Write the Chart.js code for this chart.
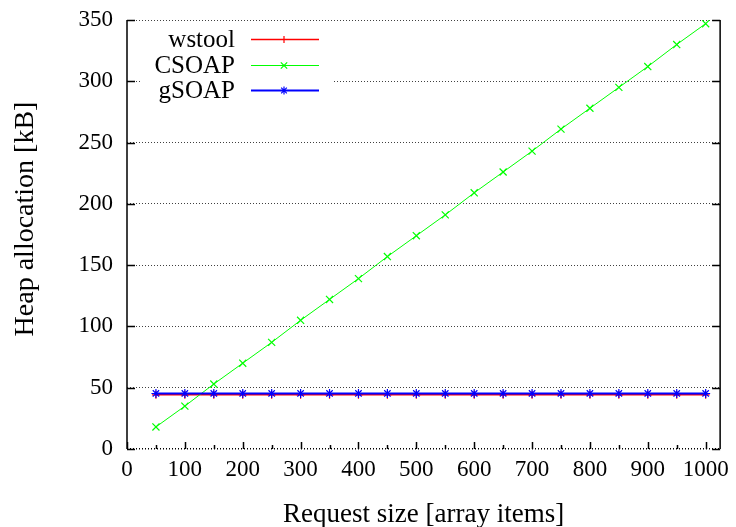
<!DOCTYPE html>
<html>
<head>
<meta charset="utf-8">
<script src="https://cdn.jsdelivr.net/npm/chart.js@4/dist/chart.umd.min.js"></script>
<style>
  html, body { margin: 0; padding: 0; background: #fff; }
  #wrap { width: 736px; height: 527px; }
</style>
</head>
<body>
<div id="wrap"><canvas id="heap"></canvas></div>
<script>
// request sizes (array items)
const requestSizes = [50, 100, 150, 200, 250, 300, 350, 400, 450, 500,
  550, 600, 650, 700, 750, 800, 850, 900, 950, 1000];

// heap allocation in kB
const wstoolHeap = [44.2, 44.2, 44.2, 44.2, 44.2, 44.2, 44.2, 44.2, 44.2, 44.2,
  44.2, 44.2, 44.2, 44.2, 44.2, 44.2, 44.2, 44.2, 44.2, 44.2];
const csoapHeap = [18, 35, 53, 70, 87, 105, 122, 139, 157, 174,
  191, 209, 226, 243, 261, 278, 295, 312, 330, 347];
const gsoapHeap = [45.3, 45.3, 45.3, 45.3, 45.3, 45.3, 45.3, 45.3, 45.3, 45.3,
  45.3, 45.3, 45.3, 45.3, 45.3, 45.3, 45.3, 45.3, 45.3, 45.3];

const seriesNames = ["wstool", "CSOAP", "gSOAP"];
const seriesColors = ["#ff0000", "#00ff00", "#0000ff"];
const seriesMarkers = ["cross", "crossRot", "star"];
const seriesWidths = [1.5, 1, 2];
const markerSizes = [4, 5, 4.5];

const yTitle = "Heap allocation [kB]";
const xTitle = "Request size [array items]";

const serif = "'Liberation Serif', 'DejaVu Serif', serif";

function toPoints(ys) {
  return requestSizes.map((x, i) => ({ x: x, y: ys[i] }));
}

// gnuplot look: inward ticks, left/right border, y title and the key
const gnuplotFrame = {
  id: "gnuplotFrame",
  beforeDatasetsDraw(chart) {
    const ctx = chart.ctx;
    // key box hides the grid lines behind it
    ctx.save();
    ctx.fillStyle = "#fff";
    ctx.fillRect(142, 26, 191, 78);
    ctx.restore();
  },
  afterDatasetsDraw(chart) {
    const ctx = chart.ctx;
    const area = chart.chartArea;
    const xs = chart.scales.x;
    const ys = chart.scales.y;
    ctx.save();
    ctx.strokeStyle = "#000";
    ctx.lineWidth = 1.5;
    ctx.beginPath();
    ctx.moveTo(area.left, area.top);
    ctx.lineTo(area.left, area.bottom);
    ctx.moveTo(area.right, area.top);
    ctx.lineTo(area.right, area.bottom);
    ys.ticks.forEach((t) => {
      const py = Math.round(ys.getPixelForValue(t.value)) + 0.5;
      ctx.moveTo(area.left, py);
      ctx.lineTo(area.left + 8, py);
      ctx.moveTo(area.right, py);
      ctx.lineTo(area.right - 8, py);
    });
    xs.ticks.forEach((t) => {
      if (t.value > 1000) return;
      const px = Math.round(xs.getPixelForValue(t.value)) + 0.5;
      const len = t.value % 100 === 0 ? 7 : 4;
      ctx.moveTo(px, area.bottom);
      ctx.lineTo(px, area.bottom - len);
    });
    ctx.stroke();

    // y axis title
    ctx.save();
    ctx.translate(26, 219);
    ctx.rotate(-Math.PI / 2);
    ctx.fillStyle = "#000";
    ctx.font = "28px " + serif;
    ctx.textAlign = "center";
    ctx.textBaseline = "middle";
    ctx.fillText(yTitle, 0, 0);
    ctx.restore();

    // key
    ctx.font = "25px " + serif;
    ctx.textAlign = "right";
    ctx.textBaseline = "middle";
    const rows = [39.5, 65.5, 90.5];
    chart.data.datasets.forEach((ds, i) => {
      const yy = rows[i];
      ctx.fillStyle = "#000";
      ctx.fillText(ds.label, 235, yy + 1);
      ctx.strokeStyle = ds.borderColor;
      ctx.lineWidth = ds.borderWidth;
      ctx.beginPath();
      ctx.moveTo(251, yy);
      ctx.lineTo(319, yy);
      ctx.stroke();
      ctx.lineWidth = ds.pointBorderWidth;
      Chart.helpers.drawPoint(ctx, {
        pointStyle: ds.pointStyle,
        radius: ds.pointRadius - 0.5,
        borderWidth: ds.pointBorderWidth
      }, 284, yy);
    });
    ctx.restore();
  }
};

const datasets = [wstoolHeap, csoapHeap, gsoapHeap].map((ys, i) => ({
  label: seriesNames[i],
  data: toPoints(ys),
  borderColor: seriesColors[i],
  backgroundColor: seriesColors[i],
  borderWidth: seriesWidths[i],
  pointStyle: seriesMarkers[i],
  pointRadius: markerSizes[i],
  pointBorderWidth: 1.2,
  pointBorderColor: seriesColors[i],
  fill: false,
  tension: 0,
  order: 2 - i
}));

new Chart(document.getElementById("heap"), {
  type: "line",
  data: { datasets: datasets },
  options: {
    responsive: true,
    maintainAspectRatio: false,
    animation: false,
    layout: { padding: { left: 0, right: 14, top: 20, bottom: 0 } },
    plugins: {
      legend: { display: false },
      tooltip: { enabled: false }
    },
    scales: {
      x: {
        type: "linear",
        min: 0,
        max: 1025,
        afterFit(scale) { scale.height = 78; },
        ticks: {
          stepSize: 50,
          includeBounds: false,
          autoSkip: false,
          maxRotation: 0,
          padding: 7,
          color: "#000",
          font: { family: serif, size: 23 },
          callback: (v) => (v % 100 === 0 && v <= 1000 ? String(v) : "")
        },
        grid: { display: false, drawTicks: false },
        border: { display: false },
        title: {
          display: true,
          text: xTitle,
          color: "#000",
          font: { family: serif, size: 27, lineHeight: 1 },
          padding: { top: 0, bottom: -1 }
        }
      },
      y: {
        min: 0,
        max: 350,
        afterFit(scale) { scale.width = 127; },
        ticks: {
          stepSize: 50,
          padding: 0,
          color: "#000",
          font: { family: serif, size: 23 }
        },
        grid: {
          drawTicks: true,
          tickLength: 14,
          tickColor: "rgba(0,0,0,0)",
          color: (c) => (c.tick && c.tick.value === 0 ? "#000" : "rgba(0,0,0,0.75)"),
          lineWidth: (c) => (c.tick && c.tick.value === 0 ? 1.5 : 1)
        },
        border: { display: false, dash: [1, 2] }
      }
    }
  },
  plugins: [gnuplotFrame]
});
</script>
</body>
</html>
